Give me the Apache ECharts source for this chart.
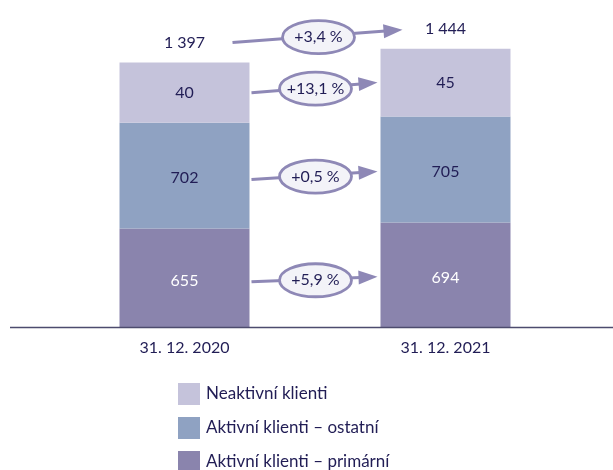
<!DOCTYPE html>
<html>
<head>
<meta charset="utf-8">
<script src="https://cdn.jsdelivr.net/npm/echarts@6/dist/echarts.min.js"></script>
<style>
  html, body { margin: 0; padding: 0; background: #ffffff; }
  #chart { width: 613px; height: 470px; }
</style>
</head>
<body>
<div id="chart"></div>
<script>
// ---- data ----
const categories = ['31. 12. 2020', '31. 12. 2021'];
const primary = [655, 694];      // Aktivní klienti – primární
const other = [702, 705];        // Aktivní klienti – ostatní
const inactive = [40, 45];       // Neaktivní klienti
const totals = [1397, 1444];
const changes = ['+5,9 %', '+0,5 %', '+13,1 %', '+3,4 %'];
const seriesNames = ['Aktivní klienti – primární', 'Aktivní klienti – ostatní', 'Neaktivní klienti'];

// the reference draws the small "inactive" segment enlarged (not to scale)
const inactiveScale = 10;

const colors = ['#8a84ad', '#8fa2c2', '#c5c3db'];
const textDark = '#211d55';
const arrowColor = '#8e88b6';
const FONT = 'Lato';

const chart = echarts.init(document.getElementById('chart'), null, { renderer: 'canvas' });

const labelBase = { show: true, position: 'inside', fontFamily: FONT, fontSize: 16 };

const option = {
  animation: false,
  textStyle: { fontFamily: FONT },
  grid: { left: 54, right: 37, top: 26, bottom: 143 },
  xAxis: {
    type: 'category',
    data: categories,
    axisLine: { show: false },
    axisTick: { show: false },
    axisLabel: { color: textDark, fontSize: 16, fontFamily: FONT, margin: 13 }
  },
  yAxis: { type: 'value', min: 0, max: 2000, show: false, splitLine: { show: false } },
  legend: {
    orient: 'vertical',
    left: 178,
    top: 383,
    width: 300,
    height: 140,
    padding: 0,
    itemWidth: 22,
    itemHeight: 22,
    itemGap: 12,
    icon: 'rect',
    data: ['Neaktivní klienti', 'Aktivní klienti – ostatní', 'Aktivní klienti – primární'],
    textStyle: { color: textDark, fontSize: 17, fontFamily: FONT, padding: [0, 0, 0, 1] }
  },
  series: [
    {
      name: seriesNames[0], type: 'bar', stack: 'a', barWidth: 130,
      itemStyle: { color: colors[0] },
      label: Object.assign({}, labelBase, { color: '#ffffff', offset: [0, 3] }),
      data: primary
    },
    {
      name: seriesNames[1], type: 'bar', stack: 'a', barWidth: 130,
      itemStyle: { color: colors[1] },
      label: Object.assign({}, labelBase, { color: textDark, offset: [0, 2] }),
      data: other
    },
    {
      name: seriesNames[2], type: 'bar', stack: 'a', barWidth: 130,
      itemStyle: { color: colors[2] },
      label: Object.assign({}, labelBase, { color: textDark, formatter: p => inactive[p.dataIndex] }),
      data: inactive.map(v => v * inactiveScale)
    },
    {
      name: 'Celkem', type: 'bar', stack: 'a', barWidth: 130,
      itemStyle: { color: 'transparent' },
      label: Object.assign({}, labelBase, {
        position: 'top', distance: 12, color: textDark,
        formatter: p => String(totals[p.dataIndex]).replace(/\B(?=(\d{3})+(?!\d))/g, ' ')
      }),
      data: totals.map(() => 0)
    }
  ]
};

chart.setOption(option);

// ---- annotations (arrows + ellipses) computed from the chart's scales ----
function px(ci, v) { return chart.convertToPixel({ gridIndex: 0 }, [ci, v]); }

const halfBar = 65;
const graphics = [];
const c0 = px(0, 0)[0], c1 = px(1, 0)[0];
const base = px(0, 0)[1];

// axis baseline across the whole width
graphics.push({
  type: 'line', z: 5,
  shape: { x1: 10, y1: base + 0.5, x2: 613, y2: base + 0.5 },
  style: { stroke: '#4d4b6e', lineWidth: 1.6 }
});

function segMid(ci, k) {
  const p = primary[ci], o = other[ci], i = inactive[ci] * inactiveScale;
  if (k === 0) return p / 2;
  if (k === 1) return p + o / 2;
  return p + o + i / 2;
}

const arrows = [];
for (let k = 0; k < 3; k++) {
  arrows.push({
    x1: c0 + halfBar + 2, y1: px(0, segMid(0, k))[1] + (k < 2 ? 4 : 0),
    x2: c1 - halfBar - 3, y2: px(1, segMid(1, k))[1] + (k < 2 ? 2 : 0),
    text: changes[k]
  });
}
// total arrow: from total label to total label
const top0 = px(0, primary[0] + other[0] + inactive[0] * inactiveScale)[1];
const top1 = px(1, primary[1] + other[1] + inactive[1] * inactiveScale)[1];
arrows.push({ x1: c0 + 48, y1: top0 - 20, x2: c1 - 43, y2: top1 - 19, text: changes[3] });

arrows.forEach(a => {
  const dx = a.x2 - a.x1, dy = a.y2 - a.y1;
  const len = Math.sqrt(dx * dx + dy * dy);
  const ux = dx / len, uy = dy / len;
  const headL = 19, headW = 7;
  const bx = a.x2 - ux * headL, by = a.y2 - uy * headL;
  graphics.push({
    type: 'line', z: 10,
    shape: { x1: a.x1, y1: a.y1, x2: bx + ux * 2, y2: by + uy * 2 },
    style: { stroke: arrowColor, lineWidth: 3 }
  });
  graphics.push({
    type: 'polygon', z: 10,
    shape: { points: [[a.x2, a.y2], [bx - uy * headW, by + ux * headW], [bx + uy * headW, by - ux * headW]] },
    style: { fill: arrowColor }
  });
  const cx = (a.x1 + a.x2) / 2 + 1, cy = (a.y1 + a.y2) / 2 + 1;
  graphics.push({
    type: 'ellipse', z: 11,
    shape: { cx: cx, cy: cy, rx: 36, ry: 16.5 },
    style: { fill: '#f3f3f8', stroke: arrowColor, lineWidth: 2.8 }
  });
  graphics.push({
    type: 'text', z: 12,
    x: cx, y: cy,
    style: {
      text: a.text, fill: textDark, font: '16px ' + FONT,
      align: 'center', verticalAlign: 'middle'
    }
  });
});

chart.setOption({ graphic: graphics });
</script>
</body>
</html>
